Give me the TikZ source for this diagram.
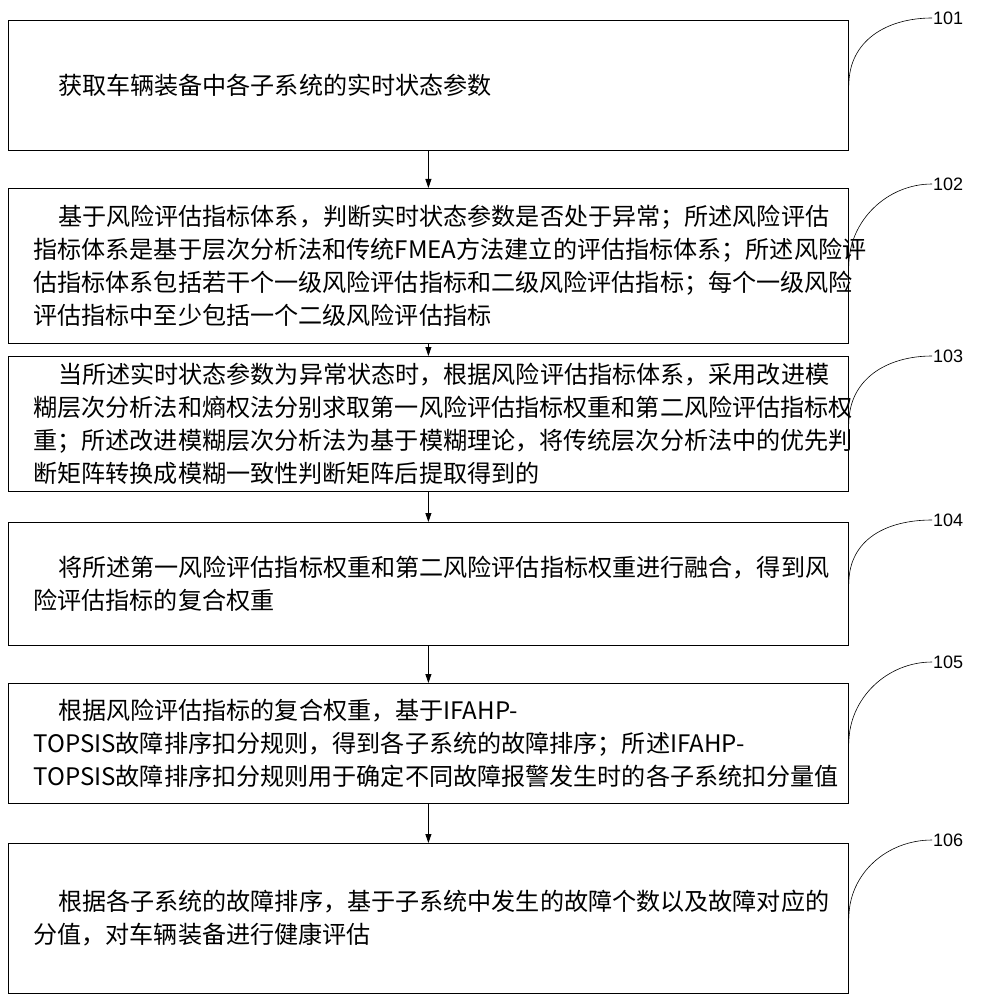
\documentclass[tikz,border=0pt]{standalone}
\usepackage{fontspec}
\newfontfamily\cjk{Noto Sans CJK SC}
\newfontfamily\tagfont{Liberation Sans}
\usetikzlibrary{arrows.meta}

\begin{document}
\begin{tikzpicture}[x=1pt,y=-1pt]
% Define the styles
\tikzstyle{stepbox} = [draw, line width=0.8pt, minimum width=840pt, anchor=north west, inner sep=0pt, text width=790pt, align=left, font=\cjk\fontsize{24.1}{33}\selectfont]
\tikzstyle{flow} = [-{Triangle[length=9pt,width=6pt]}, line width=0.8pt]
\tikzstyle{tag} = [font=\tagfont\fontsize{18}{18}\selectfont, anchor=west, inner sep=1pt]

\useasboundingbox (0,0) rectangle (991,1000);

% Define the boxes
\node[stepbox, minimum height=130pt] (S1) at (8,20) {\hspace*{24.6pt}获取车辆装备中各子系统的实时状态参数};
\node[stepbox, minimum height=155pt] (S2) at (8,188) {\hspace*{24.6pt}基于风险评估指标体系，判断实时状态参数是否处于异常；所述风险评估\\指标体系是基于层次分析法和传统FMEA方法建立的评估指标体系；所述风险评\\估指标体系包括若干个一级风险评估指标和二级风险评估指标；每个一级风险\\评估指标中至少包括一个二级风险评估指标};
\node[stepbox, minimum height=135pt] (S3) at (8,356) {\hspace*{24.6pt}当所述实时状态参数为异常状态时，根据风险评估指标体系，采用改进模\\糊层次分析法和熵权法分别求取第一风险评估指标权重和第二风险评估指标权\\重；所述改进模糊层次分析法为基于模糊理论，将传统层次分析法中的优先判\\断矩阵转换成模糊一致性判断矩阵后提取得到的};
\node[stepbox, minimum height=123pt] (S4) at (8,522) {\hspace*{24.6pt}将所述第一风险评估指标权重和第二风险评估指标权重进行融合，得到风\\险评估指标的复合权重};
\node[stepbox, minimum height=120pt] (S5) at (8,683) {\hspace*{24.6pt}根据风险评估指标的复合权重，基于IFAHP-\\TOPSIS故障排序扣分规则，得到各子系统的故障排序；所述IFAHP-\\TOPSIS故障排序扣分规则用于确定不同故障报警发生时的各子系统扣分量值};
\node[stepbox, minimum height=150pt] (S6) at (8,843) {\hspace*{24.6pt}根据各子系统的故障排序，基于子系统中发生的故障个数以及故障对应的\\分值，对车辆装备进行健康评估};

% Define the transitions
\draw[flow] (S1) -- (S2);
\draw[flow] (S2) -- (S3);
\draw[flow] (S3) -- (S4);
\draw[flow] (S4) -- (S5);
\draw[flow] (S5) -- (S6);

% Add the step labels
\foreach \n/\y/\t in {1/18/101, 2/184/102, 3/356/103, 4/520/104, 5/662/105, 6/840/106} {
  \node[tag] (L\n) at (932,\y) {\t};
  \draw[line width=0.6pt] (S\n.east) .. controls ([yshift=45pt]S\n.east) and ([xshift=-45pt]L\n.west) .. (L\n.west);
}
\end{tikzpicture}
\end{document}
